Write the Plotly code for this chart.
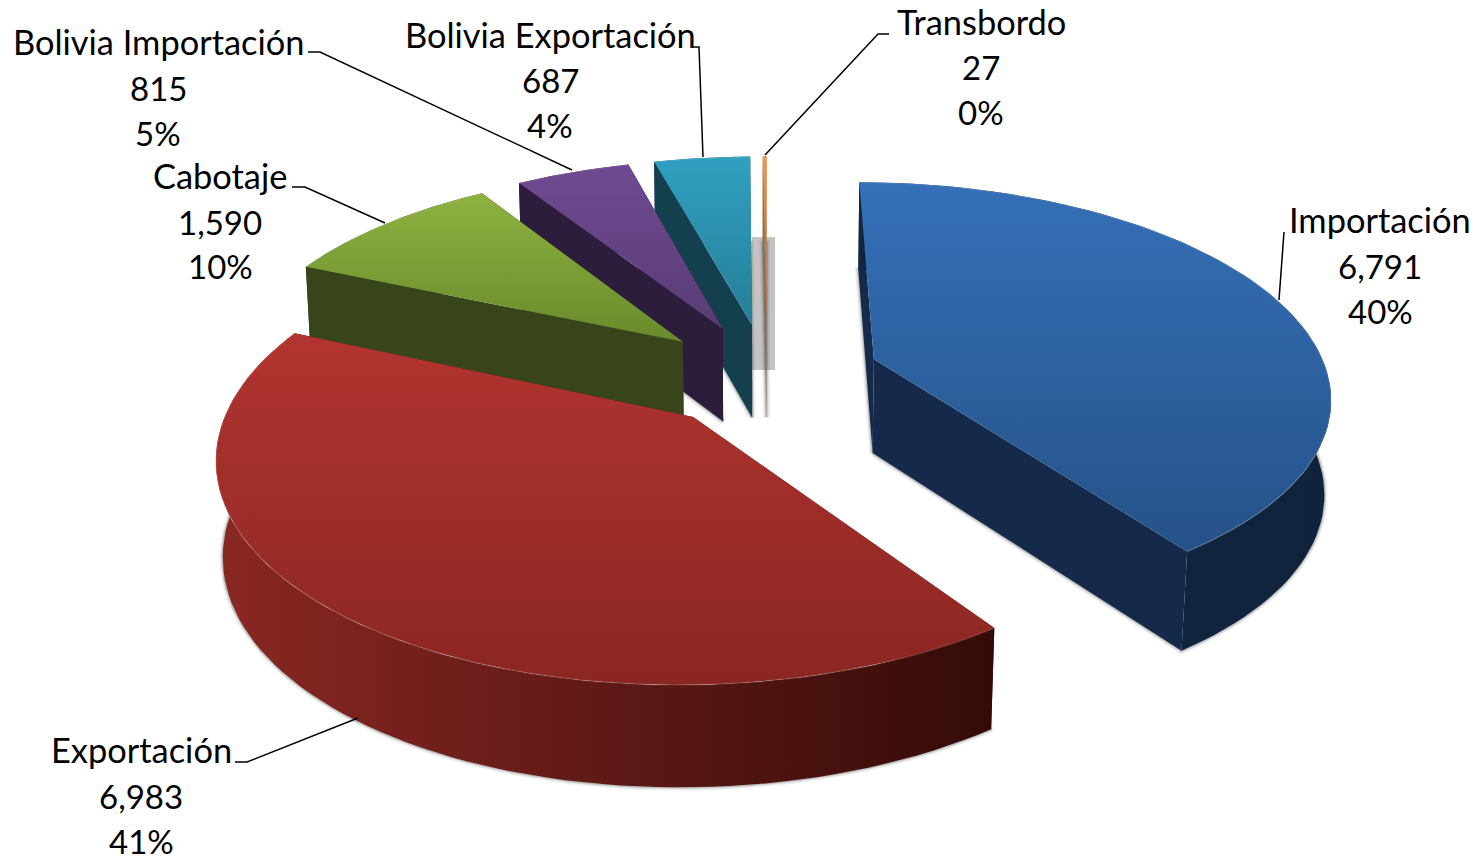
import numpy as np
import plotly.graph_objects as go

# Chart data
categories = ["Importación", "Exportación", "Cabotaje", "Bolivia Importación", "Bolivia Exportación", "Transbordo"]
values = [6791, 6983, 1590, 815, 687, 27]
percent_labels = ["40%", "41%", "10%", "5%", "4%", "0%"]

# Colours per slice: top gradient, radial wall, outer wall gradient
top_colors = [("#255288", "#3570b8"), ("#8a2622", "#b23430"), ("#688a2c", "#8eb240"),
              ("#593c76", "#6f4a92"), ("#267e98", "#30a0c0"), ("#a0622c", "#f79646")]
wall_colors = ["#152a4a", "#4a1210", "#38441a", "#2d1d3c", "#133f4e", "#8a6a50"]
arc_colors = [("#13253f", "#10233c"), ("#8a2723", "#340b08"), ("#38441a", "#38441a"),
              ("#2d1d3c", "#2d1d3c"), ("#133f4e", "#133f4e"), ("#8a6a50", "#8a6a50")]

# Perspective of the pie (pixels of the picture)
CX, CY = 767, 375
S, T = 454, 210
P, Q = 0.16, 0.012
H = 95
EXPLODE = 0.25
ROTATION = 0

# Label placement: centre x, y of the three lines, leader polyline
label_x = [1380, 141, 220, 158, 550, 981]
label_y = [(219, 266, 311), (749, 796, 841), (175, 222, 266), (41, 88, 133), (34, 80, 125), (21, 67, 112)]
leaders = [
    [(1284, 232), (1279, 300)],
    [(235, 762), (247, 762), (358, 718)],
    [(292, 187), (305, 187), (385, 223)],
    [(308, 52), (320, 52), (572, 170)],
    [(693, 47), (699, 47), (703, 157)],
    [(889, 34), (878, 34), (765, 155)],
]


def project(X, Y, z=0.0):
    w = 1 + P * Y + Q * z
    return CX + S * X / w, CY - T * Y / w + H * z / w ** 0.6


def add_poly(fig, xs, ys, color=None, gradient=None, direction="vertical"):
    kw = {}
    if gradient:
        kw["fillgradient"] = dict(type=direction, colorscale=[[0, gradient[0]], [1, gradient[1]]])
    else:
        kw["fillcolor"] = color
    fig.add_trace(go.Scatter(x=list(xs) + [xs[0]], y=list(ys) + [ys[0]], mode="lines", fill="toself",
                             line=dict(width=0), hoverinfo="skip", showlegend=False, **kw))


fig = go.Figure()

# grey shadow behind the thin slice
fig.add_shape(type="rect", x0=752, x1=775, y0=237, y1=370, fillcolor="#c4c4c4", line_width=0, layer="below")

total = sum(values)
angles = np.concatenate([[0], np.cumsum(values) / total * 360]) + ROTATION

# back slices first, front ones last
draw_order = [5, 4, 3, 2, 0, 1]
for i in draw_order:
    a0, a1 = np.radians(angles[i]), np.radians(angles[i + 1])
    mid = (a0 + a1) / 2
    ex, ey = EXPLODE * np.sin(mid), EXPLODE * np.cos(mid)
    arc = np.linspace(a0, a1, 80)
    ax, ay = ex + np.sin(arc), ey + np.cos(arc)

    top_u, top_v = project(ax, ay)
    bot_u, bot_v = project(ax, ay, 1.0)
    apex_u, apex_v = project(ex, ey)
    apex_bu, apex_bv = project(ex, ey, 1.0)

    # soft shadow round the base
    shadow_x = [apex_bu] + list(bot_u) + [apex_bu]
    shadow_y = [apex_bv] + list(bot_v) + [apex_bv]
    for width, alpha in [(7, 0.06), (4, 0.10), (2, 0.14)]:
        fig.add_trace(go.Scatter(x=shadow_x, y=shadow_y, mode="lines", hoverinfo="skip", showlegend=False,
                                 line=dict(width=width, color=f"rgba(0,0,0,{alpha})")))

    # radial walls
    for u, v, bu, bv in [(top_u[0], top_v[0], bot_u[0], bot_v[0]), (top_u[-1], top_v[-1], bot_u[-1], bot_v[-1])]:
        add_poly(fig, [apex_u, u, bu, apex_bu], [apex_v, v, bv, apex_bv], color=wall_colors[i])

    # outer wall
    add_poly(fig, list(top_u) + list(bot_u[::-1]), list(top_v) + list(bot_v[::-1]),
             gradient=arc_colors[i], direction="horizontal")

    # top face
    add_poly(fig, [apex_u] + list(top_u), [apex_v] + list(top_v), gradient=top_colors[i])
    fig.add_trace(go.Scatter(x=top_u, y=top_v, mode="lines", hoverinfo="skip", showlegend=False,
                             line=dict(width=1.5, color="rgba(255,255,255,0.12)")))

# leader lines
for pts in leaders:
    fig.add_trace(go.Scatter(x=[p[0] for p in pts], y=[p[1] for p in pts], mode="lines", hoverinfo="skip",
                             showlegend=False, line=dict(width=1.5, color="black")))

# labels: name, value, percent on their own lines
for i, name in enumerate(categories):
    lines = [name, f"{values[i]:,}", percent_labels[i]]
    for j, (text, y) in enumerate(zip(lines, label_y[i])):
        fig.add_annotation(x=label_x[i], y=y, text=text, showarrow=False, xanchor="center", yanchor="middle",
                           height=44 if j == 0 else 36,
                           font=dict(family="Lato", size=34.4 if j == 0 else 33, color="black"))

fig.update_layout(
    width=1483,
    height=860,
    margin=dict(l=0, r=0, t=0, b=0),
    paper_bgcolor="white",
    plot_bgcolor="white",
    showlegend=False,
    xaxis=dict(range=[0, 1483], visible=False, fixedrange=True),
    yaxis=dict(range=[860, 0], visible=False, fixedrange=True),
)

fig.write_html("out.html", config=dict(displayModeBar=False), post_script="document.body.style.margin='0';")
